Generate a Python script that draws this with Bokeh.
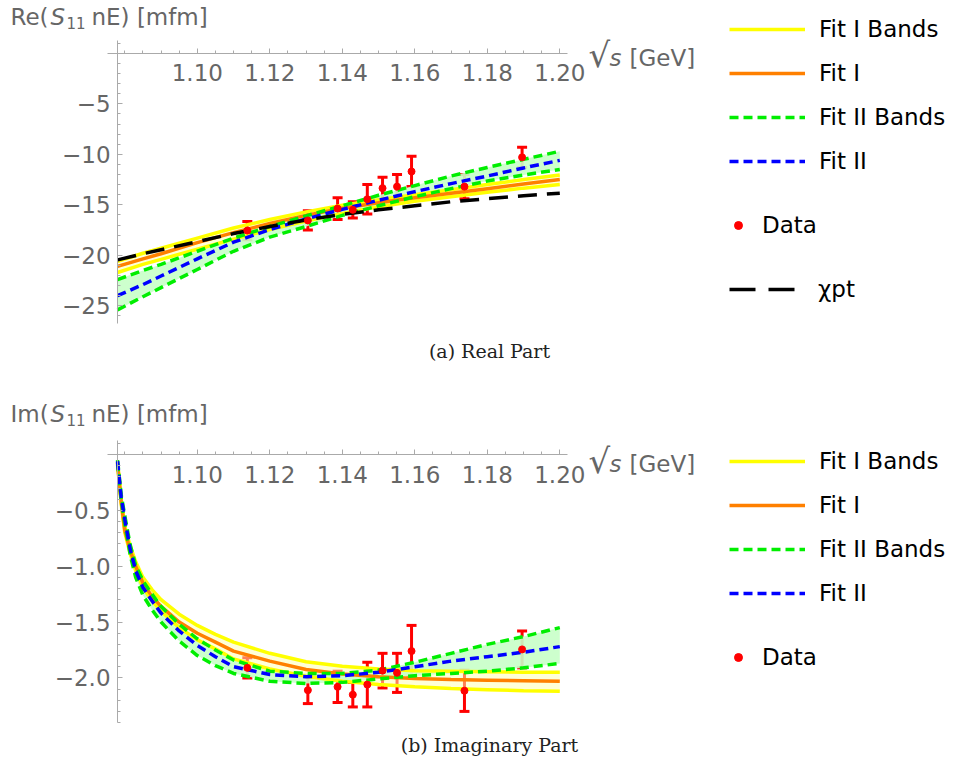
from bokeh.plotting import figure
from bokeh.models import (LinearAxis, FixedTicker, ColumnDataSource, Whisker, TeeHead,
                          Label, Legend, LegendItem, Range1d, CustomJSTickFormatter)
from bokeh.layouts import column
from bokeh.embed import file_html
from bokeh.resources import INLINE

# ---------------- data ----------------
x_thr = 1.078
x_re = [1.078, 1.085, 1.09, 1.10, 1.11, 1.12, 1.13, 1.14, 1.15, 1.16, 1.17, 1.18, 1.19, 1.20]
re_chpt = [-20.45, -19.85, -19.45, -18.65, -17.85, -17.15, -16.5, -15.95, -15.5, -15.1, -14.7, -14.4, -14.1, -13.85]
re_fit1 = [-21.1, -20.35, -19.85, -18.75, -17.75, -16.85, -16.05, -15.35, -14.8, -14.3, -13.85, -13.4, -12.95, -12.5]
re_fit1_hi = [-20.6, -19.8, -19.3, -18.3, -17.3, -16.45, -15.7, -15.05, -14.5, -14.0, -13.5, -13.0, -12.5, -12.05]
re_fit1_lo = [-21.7, -20.9, -20.4, -19.4, -18.4, -17.45, -16.6, -15.85, -15.2, -14.65, -14.2, -13.75, -13.35, -13.0]
re_fit2 = [-24.0, -22.9, -22.05, -20.35, -18.7, -17.45, -16.4, -15.45, -14.55, -13.7, -12.9, -12.15, -11.35, -10.6]
re_fit2_hi = [-22.4, -21.5, -20.9, -19.6, -18.3, -17.15, -16.1, -15.1, -14.05, -13.1, -12.15, -11.3, -10.5, -9.7]
re_fit2_lo = [-25.4, -24.1, -23.2, -21.4, -19.6, -18.2, -17.15, -16.05, -15.1, -14.2, -13.4, -12.65, -12.05, -11.5]

x_im = [1.078, 1.079, 1.080, 1.0815, 1.083, 1.085, 1.0875, 1.09, 1.095, 1.10, 1.105, 1.11,
        1.12, 1.13, 1.14, 1.15, 1.16, 1.17, 1.18, 1.19, 1.20]
im_fit1 = [-0.08, -0.42, -0.68, -0.86, -1.00, -1.15, -1.27, -1.36, -1.50, -1.60, -1.68, -1.76,
           -1.85, -1.925, -1.965, -1.99, -2.005, -2.015, -2.02, -2.025, -2.03]
im_fit1_hi = [-0.07, -0.40, -0.65, -0.82, -0.96, -1.10, -1.21, -1.30, -1.43, -1.53, -1.61, -1.68,
              -1.78, -1.855, -1.895, -1.92, -1.935, -1.94, -1.945, -1.95, -1.95]
im_fit1_lo = [-0.09, -0.44, -0.70, -0.89, -1.04, -1.19, -1.31, -1.40, -1.55, -1.66, -1.74, -1.83,
              -1.92, -1.985, -2.03, -2.06, -2.08, -2.095, -2.105, -2.115, -2.12]
im_fit2 = [-0.06, -0.38, -0.58, -0.85, -1.04, -1.19, -1.31, -1.42, -1.58, -1.71, -1.81, -1.90,
           -1.97, -1.99, -1.98, -1.95, -1.90, -1.85, -1.81, -1.77, -1.72]
im_fit2_hi = [-0.05, -0.36, -0.55, -0.81, -0.99, -1.13, -1.25, -1.36, -1.52, -1.65, -1.75, -1.84,
              -1.94, -1.96, -1.96, -1.93, -1.86, -1.78, -1.70, -1.63, -1.55]
im_fit2_lo = [-0.07, -0.41, -0.62, -0.90, -1.10, -1.26, -1.39, -1.50, -1.67, -1.80, -1.89, -1.96,
              -2.03, -2.05, -2.04, -2.01, -1.98, -1.96, -1.94, -1.91, -1.87]

data_x = [1.1138, 1.1305, 1.1387, 1.1429, 1.1469, 1.1511, 1.1551, 1.1591, 1.1737, 1.1896]
re_val = [-17.55, -16.55, -15.37, -15.5, -14.45, -13.35, -13.2, -11.7, -13.2, -10.3]
re_err = [0.9, 0.95, 1.08, 0.8, 1.45, 1.07, 1.2, 1.5, 1.2, 1.0]
im_val = [-1.91, -2.11, -2.08, -2.15, -2.06, -1.935, -1.955, -1.76, -2.115, -1.745]
im_err = [0.09, 0.12, 0.14, 0.11, 0.20, 0.155, 0.175, 0.23, 0.185, 0.165]

x_major = [1.10, 1.12, 1.14, 1.16, 1.18, 1.20]
x_minor = [1.08 + 0.005 * i for i in range(25)]
re_major = [-25, -20, -15, -10, -5]
re_minor = list(range(-26, 2))
im_major = [-2.0, -1.5, -1.0, -0.5]
im_minor = [round(-2.4 + 0.1 * i, 2) for i in range(26)]

# ---------------- styling ----------------
W = 962
SX = 3625.0                 # px per GeV
X0 = 1.10 - 196.8 / SX      # left edge of frame
X1 = X0 + W / SX
FONT = "DejaVu Sans"
GRAY = "#666666"
AXC = "#aaaaaa"

C_Y, C_O, C_G, C_B, C_R = "#ffff00", "#ff8000", "#00ee00", "#0000ff", "#ff0000"


def make_panel(H, ytop, sy, curves, yvals, yerr, major, minor, ybounds, ydec,
               prefix, ty, xy, caption, cap_y, leg_top, data_c, chpt_c):
    p = figure(width=W, height=H, x_range=Range1d(X0, X1),
               y_range=Range1d(ytop - H / sy, ytop), min_border=0,
               x_axis_location=None, y_axis_location=None,
               toolbar_location=None, output_backend="svg", outline_line_color=None)
    p.xgrid.visible = False
    p.ygrid.visible = False

    def cx(px):
        return X0 + px / SX

    def cy(py):
        return ytop - py / sy

    def txt(px, py, s, size="23px", style="normal", color=GRAY, font=FONT, align="left"):
        p.add_layout(Label(x=cx(px), y=cy(py), text=s, text_font=font,
                           text_font_size=size, text_color=color, text_font_style=style,
                           text_baseline="middle", text_align=align))

    xs, f1, f1h, f1l, f2, f2h, f2l, chpt = curves
    p.varea(x=xs, y1=f1l, y2=f1h, fill_color="#ffffb0", fill_alpha=0.5)
    p.varea(x=xs, y1=f2l, y2=f2h, fill_color="#c8ffc8", fill_alpha=0.9)
    r_yh = p.line(xs, f1h, line_color=C_Y, line_width=3.5)
    p.line(xs, f1l, line_color=C_Y, line_width=3.5)
    r_o = p.line(xs, f1, line_color=C_O, line_width=3.5)
    r_gh = p.line(xs, f2h, line_color=C_G, line_width=3.5, line_dash="9 5")
    p.line(xs, f2l, line_color=C_G, line_width=3.5, line_dash="9 5")
    r_b = p.line(xs, f2, line_color=C_B, line_width=3.5, line_dash="9 5")
    r_chpt_leg = None
    if chpt is not None:
        p.line(xs, chpt, line_color="black", line_width=3.5, line_dash="19 10")
        r_chpt_leg = p.line([1.1, 1.1], [float("nan"), float("nan")], line_color="black",
                            line_width=3.5, line_dash="26 13")

    src = ColumnDataSource(dict(x=data_x, y=yvals,
                                lo=[v - e for v, e in zip(yvals, yerr)],
                                hi=[v + e for v, e in zip(yvals, yerr)]))
    wh = Whisker(base="x", upper="hi", lower="lo", source=src, line_color=C_R, line_width=3,
                 upper_head=TeeHead(size=10, line_color=C_R, line_width=3),
                 lower_head=TeeHead(size=10, line_color=C_R, line_width=3))
    p.add_layout(wh)
    r_d = p.scatter("x", "y", source=src, size=7, color=C_R)

    xax = LinearAxis(fixed_location=0, bounds=(1.0752, 1.2021),
                     ticker=FixedTicker(ticks=x_major, minor_ticks=x_minor),
                     formatter=CustomJSTickFormatter(code="return tick.toFixed(2)"))
    yax = LinearAxis(fixed_location=x_thr, bounds=ybounds,
                     ticker=FixedTicker(ticks=major, minor_ticks=minor),
                     formatter=CustomJSTickFormatter(
                         code="return tick.toFixed(%d).replace('-', '\u2212')" % ydec))
    for ax in (xax, yax):
        ax.axis_line_color = AXC
        ax.major_tick_line_color = AXC
        ax.minor_tick_line_color = AXC
        ax.major_tick_in = 5
        ax.major_tick_out = 0
        ax.minor_tick_in = 3
        ax.minor_tick_out = 0
        ax.major_label_text_font = FONT
        ax.major_label_text_font_size = "23px"
        ax.major_label_text_color = GRAY
        ax.major_label_standoff = 7
    xax.major_label_standoff = 11
    p.add_layout(xax, "below")
    p.add_layout(yax, "left")

    # axis titles built from pieces (italic symbols, subscripts)
    txt(10, ty, prefix)
    txt(50, ty, "S", style="italic")
    txt(66, ty + 6, "11", size="15px")
    txt(91, ty, "nE) [mfm]")
    txt(588, xy - 3, "\u221A", size="34px")
    txt(609, xy, "s", style="italic")
    txt(629, xy, "[GeV]")
    txt(489, cap_y, caption, size="19px", color="#222222", font="DejaVu Serif", align="center")

    common = dict(padding=0, margin=0, border_line_alpha=0, background_fill_alpha=0,
                  label_text_font=FONT, label_text_font_size="23px", label_text_color="black",
                  glyph_height=30, label_height=30, spacing=14)
    leg1 = Legend(items=[LegendItem(label="Fit I Bands", renderers=[r_yh]),
                         LegendItem(label="Fit I", renderers=[r_o]),
                         LegendItem(label="Fit II Bands", renderers=[r_gh]),
                         LegendItem(label="Fit II", renderers=[r_b])],
                  location=(729, H - (leg_top + 162)), glyph_width=76, label_standoff=14,
                  **common)
    p.add_layout(leg1)
    leg2 = Legend(items=[LegendItem(label="Data", renderers=[r_d])],
                  location=(728, H - (data_c + 15)), glyph_width=20, label_standoff=14, **common)
    p.add_layout(leg2)
    if r_chpt_leg is not None:
        leg3 = Legend(items=[LegendItem(label="\u03c7pt", renderers=[r_chpt_leg])],
                      location=(729, H - (chpt_c + 15)), glyph_width=66, label_standoff=23,
                      **common)
        p.add_layout(leg3)
    return p


p1 = make_panel(385, 52.8 / 10.1, 10.1,
                (x_re, re_fit1, re_fit1_hi, re_fit1_lo, re_fit2, re_fit2_hi, re_fit2_lo, re_chpt),
                re_val, re_err, re_major, re_minor, (-26.75, 1.27), 0,
                "Re(", 16, 57, "(a) Real Part", 350, 14, 225, 289)
p2 = make_panel(386, 69 / 111.7, 111.7,
                (x_im, im_fit1, im_fit1_hi, im_fit1_lo, im_fit2, im_fit2_hi, im_fit2_lo, None),
                im_val, im_err, im_major, im_minor, (-2.40, 0.125), 1,
                "Im(", 28, 78, "(b) Imaginary Part", 359, 61, 272, None)

layout = column(p1, p2)
open("out.html", "w").write(file_html(layout, INLINE))
